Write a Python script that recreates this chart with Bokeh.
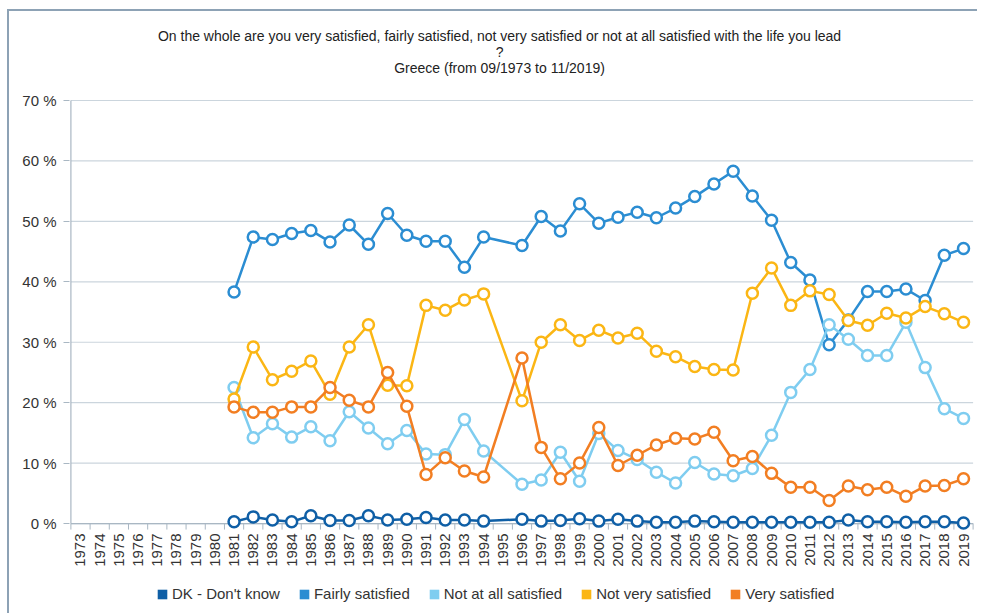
import math
from bokeh.plotting import figure
from bokeh.models import (Range1d, FixedTicker, PrintfTickFormatter, Legend, LegendItem,
                          ColumnDataSource)
from bokeh.core.properties import value
from bokeh.embed import file_html
from bokeh.resources import INLINE

years = [1981, 1982, 1983, 1984, 1985, 1986, 1987, 1988, 1989, 1990, 1991, 1992, 1993, 1994,
         1996, 1997, 1998, 1999, 2000, 2001, 2002, 2003, 2004, 2005, 2006, 2007, 2008, 2009,
         2010, 2011, 2012, 2013, 2014, 2015, 2016, 2017, 2018, 2019]

dk_dont_know = [0.3, 1.1, 0.6, 0.3, 1.3, 0.5, 0.5, 1.3, 0.6, 0.7, 1.0, 0.6, 0.6, 0.4,
                0.7, 0.4, 0.5, 0.8, 0.4, 0.7, 0.4, 0.2, 0.2, 0.4, 0.3, 0.2, 0.2, 0.2,
                0.2, 0.2, 0.2, 0.6, 0.3, 0.3, 0.2, 0.3, 0.3, 0.1]
fairly_satisfied = [38.3, 47.4, 47.0, 48.0, 48.5, 46.6, 49.4, 46.2, 51.3, 47.7, 46.7, 46.7, 42.4, 47.4,
                    46.0, 50.8, 48.4, 52.9, 49.7, 50.7, 51.5, 50.6, 52.2, 54.1, 56.2, 58.3, 54.2, 50.2,
                    43.2, 40.3, 29.6, 33.7, 38.4, 38.4, 38.8, 36.9, 44.4, 45.5]
not_at_all_satisfied = [22.5, 14.2, 16.5, 14.3, 16.0, 13.7, 18.5, 15.8, 13.2, 15.4, 11.5, 11.4, 17.2, 12.0,
                        6.5, 7.2, 11.8, 7.0, 14.9, 12.1, 10.6, 8.5, 6.7, 10.1, 8.2, 7.9, 9.1, 14.6,
                        21.7, 25.5, 32.9, 30.5, 27.8, 27.8, 33.3, 25.8, 19.0, 17.4]
not_very_satisfied = [20.6, 29.2, 23.8, 25.2, 26.9, 21.4, 29.2, 32.9, 22.9, 22.8, 36.1, 35.3, 37.0, 38.0,
                      20.3, 30.0, 32.9, 30.3, 32.0, 30.7, 31.5, 28.5, 27.6, 26.0, 25.5, 25.4, 38.1, 42.3,
                      36.1, 38.5, 37.9, 33.6, 32.8, 34.8, 34.0, 35.9, 34.7, 33.3]
very_satisfied = [19.3, 18.4, 18.4, 19.3, 19.3, 22.5, 20.4, 19.3, 25.0, 19.4, 8.1, 10.9, 8.7, 7.7,
                  27.4, 12.6, 7.4, 10.0, 15.9, 9.6, 11.3, 13.0, 14.1, 14.0, 15.1, 10.4, 11.1, 8.3,
                  6.0, 6.0, 3.8, 6.2, 5.6, 6.0, 4.5, 6.2, 6.3, 7.4]

series_names = ["DK - Don't know", "Fairly satisfied", "Not at all satisfied",
                "Not very satisfied", "Very satisfied"]
series_values = [dk_dont_know, fairly_satisfied, not_at_all_satisfied,
                 not_very_satisfied, very_satisfied]
colors = ["#0f5fa6", "#2b8dd2", "#7fcdf0", "#fbb614", "#f27e22"]

tick_years = list(range(1973, 2020))
tick_labels = [str(y) for y in tick_years]
y_ticks = [0, 10, 20, 30, 40, 50, 60, 70]

title_lines = ["On the whole are you very satisfied, fairly satisfied, not very satisfied or not at all satisfied with the life you lead",
               "?",
               "Greece (from 09/1973 to 11/2019)"]

FONT = "Liberation Sans"
AXIS_COLOR = "#a9b7c3"
GRID_COLOR = "#cbd5dd"
TEXT_COLOR = "#333333"

# frame covers the whole canvas right of the y axis; titles, year labels and
# legend are drawn inside it, above 70 % and below 0 %
p = figure(width=970, height=604, output_backend="svg", toolbar_location=None,
           x_range=Range1d(1972.427, 2019.833), y_range=Range1d(-15.22, 84.73),
           x_axis_location=None,
           min_border_left=60, min_border_right=0, min_border_top=0, min_border_bottom=0)
p.styles = {"border-top": "2px solid #8da2b5", "border-left": "2px solid #8da2b5",
            "margin-left": "7px", "margin-top": "9px"}
p.outline_line_color = None
p.xgrid.visible = False
p.ygrid.visible = False

x_left = tick_years[0] - 0.5
x_right = tick_years[-1] + 0.5
boundaries = [y - 0.5 for y in tick_years] + [x_right]

# horizontal grid lines at the y ticks
p.segment(x0=[x_left] * len(y_ticks), x1=[x_right] * len(y_ticks), y0=y_ticks, y1=y_ticks,
          line_color=GRID_COLOR, line_width=1.2)
# axis lines
p.segment(x0=[x_left, x_left], x1=[x_right, x_left], y0=[0, 0], y1=[0, y_ticks[-1]],
          line_color=AXIS_COLOR, line_width=1.2)
# x tick marks at year boundaries
p.segment(x0=boundaries, x1=boundaries, y0=[0] * len(boundaries), y1=[-1] * len(boundaries),
          line_color=AXIS_COLOR, line_width=1)
# x tick labels, reading bottom to top
p.text(x=tick_years, y=[-1.65] * len(tick_years), text=tick_labels, angle=math.pi / 2,
       text_align="right", text_baseline="middle", text_font=value(FONT),
       text_font_size="15px", text_color=TEXT_COLOR)

ya = p.yaxis[0]
ya.ticker = FixedTicker(ticks=y_ticks)
ya.formatter = PrintfTickFormatter(format="%d %%")
ya.major_tick_line_color = AXIS_COLOR
ya.major_tick_out = 6
ya.major_tick_in = 0
ya.minor_tick_line_color = None
ya.axis_line_color = None
ya.major_label_text_font = FONT
ya.major_label_text_font_size = "15px"
ya.major_label_text_color = TEXT_COLOR
ya.major_label_standoff = 7

for name, vals, col in zip(series_names, series_values, colors):
    src = ColumnDataSource(dict(x=years, y=vals))
    p.line("x", "y", source=src, line_color=col, line_width=2.5)
    p.scatter("x", "y", source=src, marker="circle", size=11, line_color=col,
              line_width=2.5, fill_color="white")

# title lines
p.text(x=[1994.83] * 3, y=[80.75, 78.1, 75.3], text=title_lines, text_align="center",
       text_baseline="middle", text_font=value(FONT), text_font_size="14px",
       text_color="#222222")

items = []
for name, col in zip(series_names, colors):
    r = p.quad(left=[float("nan")], right=[float("nan")], top=[float("nan")],
               bottom=[float("nan")], fill_color=col, line_color=None)
    items.append(LegendItem(label=name, renderers=[r]))

legend = Legend(items=items, orientation="horizontal", location=(87, 13),
                border_line_color=None, background_fill_alpha=0,
                glyph_width=12, glyph_height=12, label_standoff=4, spacing=18,
                label_text_font=FONT, label_text_font_size="15px",
                label_text_color=TEXT_COLOR, padding=0, margin=0)
p.add_layout(legend, "center")

open("out.html", "w").write(file_html(p, INLINE))
